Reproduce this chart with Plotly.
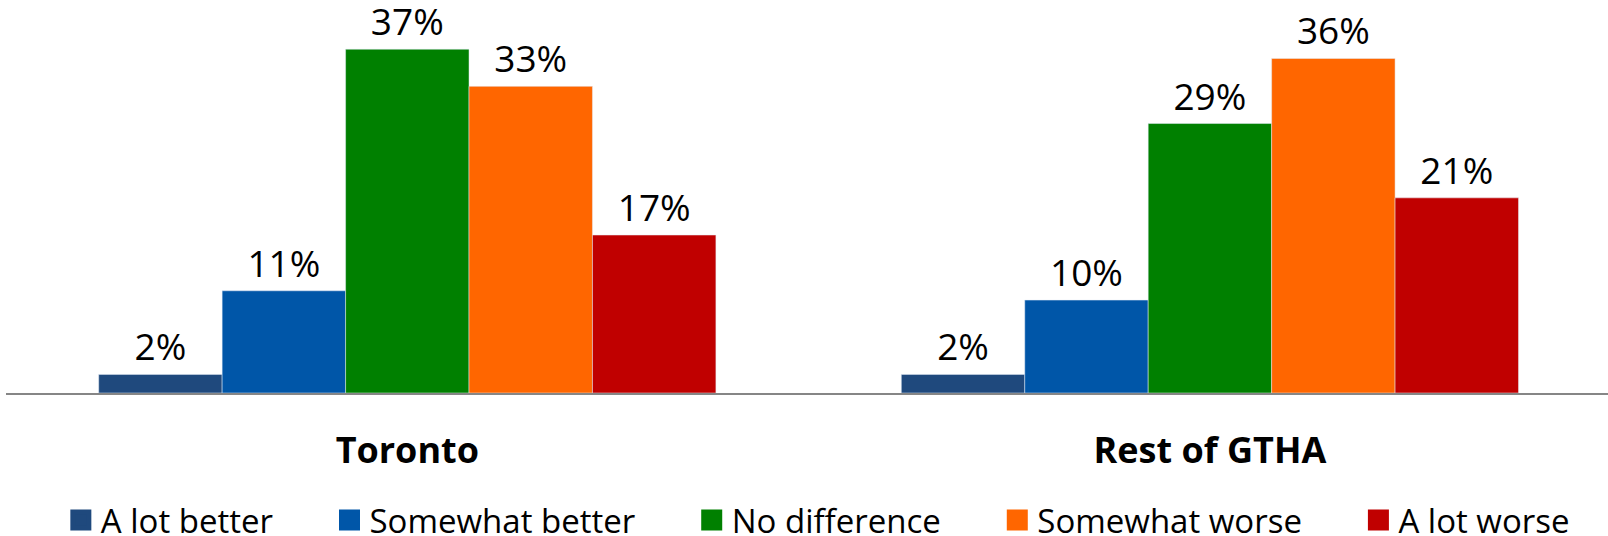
import plotly.graph_objects as go

regions = ["Toronto", "Rest of GTHA"]
series_names = ["A lot better", "Somewhat better", "No difference", "Somewhat worse", "A lot worse"]
values = {
    "A lot better": [2, 2],
    "Somewhat better": [11, 10],
    "No difference": [37, 29],
    "Somewhat worse": [33, 36],
    "A lot worse": [17, 21],
}
colors = ["#1F497D", "#0056A8", "#008000", "#FF6600", "#C00000"]

FONT = "Open Sans"
fig = go.Figure()
for name, col in zip(series_names, colors):
    fig.add_trace(go.Bar(
        x=regions, y=values[name], name=name, marker_color=col,
        text=[f"{v}%" for v in values[name]], textposition="outside",
        textfont=dict(family=FONT, size=37, color="#000000"),
        cliponaxis=False, showlegend=False,
    ))
pad = "\u00a0" * 6
for name, col in zip(series_names, colors):
    fig.add_trace(go.Scatter(
        x=[None], y=[None], mode="markers", name=name + pad,
        marker=dict(symbol="square", size=16, color=col, line=dict(color=col, width=5)),
        showlegend=True, hoverinfo="skip",
    ))

fig.update_layout(
    width=1608, height=536,
    margin=dict(l=6, r=0, t=19, b=143, autoexpand=False),
    paper_bgcolor="white", plot_bgcolor="white",
    barmode="group", bargap=0.231, bargroupgap=0,
    showlegend=True,
    legend=dict(orientation="h", x=0.523, xanchor="center", y=-0.34, yanchor="middle",
                font=dict(family=FONT, size=33, color="#000000"),
                itemsizing="trace", bgcolor="rgba(0,0,0,0)"),
    xaxis=dict(type="category", range=[-0.5, 1.496], showline=True, linecolor="#868686", linewidth=2,
               showgrid=False, zeroline=False, ticks="outside", ticklen=25, tickcolor="rgba(0,0,0,0)",
               automargin=False,
               tickfont=dict(family=FONT, size=36, color="#000000", weight="bold")),
    yaxis=dict(range=[0, 40.25], visible=False, showgrid=False, zeroline=False, automargin=False),
)
fig.write_html("out.html")
